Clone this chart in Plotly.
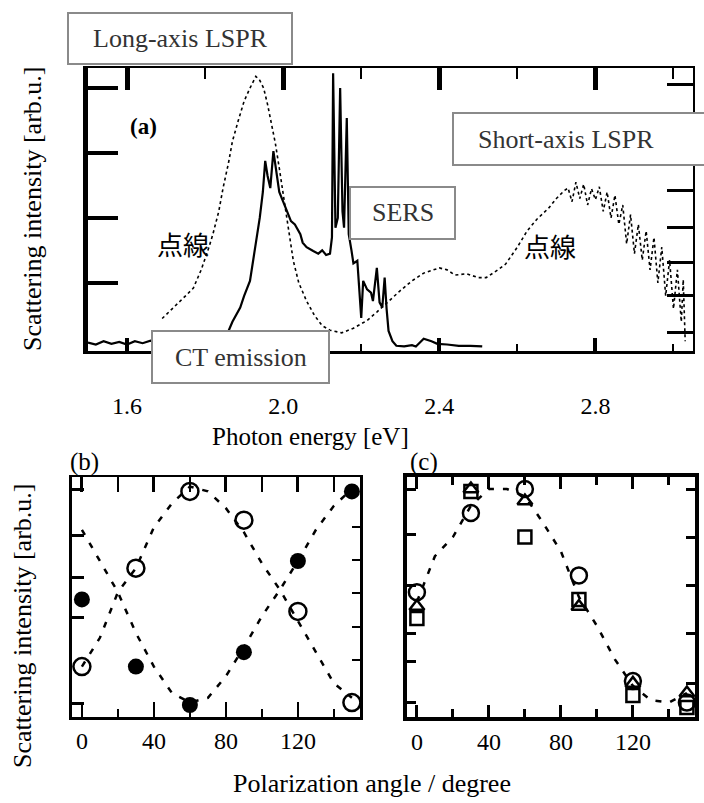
import plotly.graph_objects as go

W, H = 704, 803

# ---------------- data: panel (a) ----------------
dot_energy = [1.69, 1.72, 1.75, 1.77, 1.79, 1.81, 1.82, 1.835, 1.846, 1.86, 1.87, 1.885, 1.90, 1.915, 1.93,
              1.94, 1.95, 1.96, 1.967, 1.98, 1.99, 2.00, 2.01, 2.02, 2.026, 2.04, 2.06, 2.08, 2.10, 2.12,
              2.15, 2.18, 2.215, 2.24, 2.27, 2.30, 2.33, 2.36, 2.40, 2.42, 2.44, 2.47, 2.50, 2.52, 2.55,
              2.57, 2.60, 2.625, 2.65, 2.68, 2.70, 2.72, 2.73, 2.74, 2.75, 2.76, 2.77, 2.78, 2.79, 2.80,
              2.81, 2.82, 2.83, 2.84, 2.85, 2.86, 2.87, 2.88, 2.89, 2.90, 2.91, 2.92, 2.93, 2.94, 2.95,
              2.96, 2.97, 2.98, 2.99, 3.00, 3.01, 3.02, 3.025, 3.03]
dot_intensity = [0.45, 0.62, 0.80, 0.92, 1.20, 1.55, 1.75, 2.10, 2.46, 2.85, 3.18, 3.50, 3.80, 4.00, 4.18,
                 4.12, 4.00, 3.75, 3.54, 3.15, 2.77, 2.38, 2.00, 1.60, 1.34, 1.00, 0.72, 0.50, 0.34, 0.27,
                 0.23, 0.30, 0.42, 0.55, 0.72, 0.88, 1.03, 1.15, 1.23, 1.20, 1.12, 1.14, 1.08, 1.08, 1.20,
                 1.29, 1.55, 1.80, 1.98, 2.15, 2.30, 2.42, 2.46, 2.25, 2.55, 2.30, 2.52, 2.20, 2.45, 2.28,
                 2.48, 2.10, 2.40, 2.00, 2.35, 1.90, 2.20, 1.60, 2.05, 1.45, 1.90, 1.35, 1.80, 1.20, 1.70,
                 1.00, 1.55, 0.80, 1.35, 0.60, 1.20, 0.40, 1.05, 0.10]

solid_energy = [1.50, 1.52, 1.54, 1.56, 1.58, 1.60, 1.62, 1.64, 1.66, 1.68, 1.70, 1.72, 1.74, 1.76, 1.78,
                1.80, 1.82, 1.84, 1.856, 1.87, 1.89, 1.90, 1.915, 1.925, 1.93, 1.94, 1.948, 1.954, 1.96,
                1.967, 1.975, 1.982, 1.99, 2.00, 2.01, 2.02, 2.03, 2.044, 2.05, 2.06, 2.077, 2.09, 2.10,
                2.11, 2.12, 2.125, 2.128, 2.134, 2.14, 2.146, 2.152, 2.156, 2.163, 2.168, 2.175, 2.18,
                2.19, 2.20, 2.205, 2.215, 2.225, 2.23, 2.24, 2.247, 2.254, 2.26, 2.265, 2.27, 2.28, 2.29,
                2.31, 2.33, 2.34, 2.36, 2.38, 2.395, 2.42, 2.45, 2.48, 2.51]
solid_intensity = [0.08, 0.05, 0.10, 0.06, 0.09, 0.05, 0.10, 0.07, 0.11, 0.06, 0.09, 0.07, 0.10, 0.08, 0.12,
                   0.10, 0.13, 0.15, 0.20, 0.40, 0.62, 0.80, 1.03, 1.40, 1.65, 2.00, 2.40, 2.88, 2.65,
                   2.46, 3.03, 2.70, 2.40, 2.25, 2.10, 1.95, 1.90, 1.75, 1.62, 1.55, 1.49, 1.45, 1.50,
                   1.43, 1.45, 1.70, 4.23, 1.85, 2.00, 4.00, 2.10, 1.85, 3.54, 1.75, 1.50, 1.30,
                   1.34, 0.46, 1.03, 0.90, 0.85, 0.72, 1.23, 0.70, 0.62, 1.08, 0.60, 0.26, 0.10, 0.03,
                   0.02, 0.04, 0.02, 0.14, 0.10, 0.06, 0.05, 0.03, 0.03, 0.02]

energy_tickvals = [1.6, 2.0, 2.4, 2.8]
energy_ticktext = ["1.6", "2.0", "2.4", "2.8"]
energy_minor = [1.8, 2.2, 2.6, 3.0]
a_left_ticks = [1, 2, 3, 4]
a_right_ticks = [0.23, 0.80, 1.31, 1.86, 2.43, 4.05]

# ---------------- data: panels (b), (c) ----------------
angles = [0, 30, 60, 90, 120, 150]
b_open = [0.21, 0.62, 0.94, 0.82, 0.44, 0.06]
b_filled = [0.49, 0.21, 0.05, 0.27, 0.65, 0.94]
fit_angles = [0, 10, 20, 30, 40, 50, 60, 70, 80, 90, 100, 110, 120, 130, 140, 150]
b_open_fit = [0.21, 0.33, 0.52, 0.62, 0.79, 0.89, 0.96, 0.94, 0.87, 0.77, 0.64, 0.53, 0.40, 0.27, 0.14, 0.08]
b_filled_fit = [0.78, 0.65, 0.52, 0.35, 0.21, 0.10, 0.06, 0.08, 0.17, 0.29, 0.42, 0.53, 0.65, 0.78, 0.88, 0.95]

c_circle = [0.52, 0.85, 0.95, 0.59, 0.15, 0.06]
c_triangle = [0.46, 0.95, 0.90, 0.46, 0.14, 0.10]
c_square = [0.41, 0.94, 0.75, 0.49, 0.09, 0.04]
c_fit = [0.48, 0.67, 0.75, 0.88, 0.95, 0.95, 0.92, 0.81, 0.69, 0.50, 0.38, 0.24, 0.13, 0.07, 0.06, 0.10]

angle_tickvals = [0, 40, 80, 120]
angle_ticktext = ["0", "40", "80", "120"]
angle_minor = [20, 60, 100, 140]
b_left_ticks = [0.058, 0.413, 0.583, 0.758, 0.946]
b_right_ticks = [0.2375, 0.375, 0.517, 0.654, 0.79]
c_left_ticks = [0.06, 0.23, 0.35, 0.55, 0.76, 0.95]
c_right_ticks = [0.14, 0.35, 0.55, 0.75, 0.95]


def px(x):
    return x / W


def py(y):
    return 1 - y / H


SERIF = "Liberation Serif"
CJK = "Noto Sans CJK JP"

fig = go.Figure()

# panel (a)
fig.add_trace(go.Scatter(x=dot_energy, y=dot_intensity, mode="lines",
                         line=dict(color="black", width=1.6, dash="dot"), xaxis="x", yaxis="y"))
fig.add_trace(go.Scatter(x=solid_energy, y=solid_intensity, mode="lines",
                         line=dict(color="black", width=2.2), xaxis="x", yaxis="y"))

# panel (b)
fig.add_trace(go.Scatter(x=fit_angles, y=b_open_fit, mode="lines",
                         line=dict(color="black", width=2.5, dash="6px,9px"), xaxis="x3", yaxis="y3"))
fig.add_trace(go.Scatter(x=fit_angles, y=b_filled_fit, mode="lines",
                         line=dict(color="black", width=2.5, dash="6px,9px"), xaxis="x3", yaxis="y3"))
fig.add_trace(go.Scatter(x=angles, y=b_open, mode="markers",
                         marker=dict(symbol="circle-open", size=17, color="black", line=dict(width=2.5)),
                         xaxis="x3", yaxis="y3"))
fig.add_trace(go.Scatter(x=angles, y=b_filled, mode="markers",
                         marker=dict(symbol="circle", size=16, color="black"),
                         xaxis="x3", yaxis="y3"))

# panel (c)
fig.add_trace(go.Scatter(x=fit_angles, y=c_fit, mode="lines",
                         line=dict(color="black", width=2.5, dash="6px,9px"), xaxis="x4", yaxis="y4"))
fig.add_trace(go.Scatter(x=angles, y=c_circle, mode="markers",
                         marker=dict(symbol="circle-open", size=16, color="black", line=dict(width=2.5)),
                         xaxis="x4", yaxis="y4"))
fig.add_trace(go.Scatter(x=angles, y=c_triangle, mode="markers",
                         marker=dict(symbol="triangle-up-open", size=13, color="black", line=dict(width=2.5)),
                         xaxis="x4", yaxis="y4"))
fig.add_trace(go.Scatter(x=angles, y=c_square, mode="markers",
                         marker=dict(symbol="square-open", size=13, color="black", line=dict(width=2.5)),
                         xaxis="x4", yaxis="y4"))

# empty helper traces so that the overlaid frame axes (top / right) get drawn
for xa, ya in [("x2", "y"), ("x", "y2"), ("x5", "y3"), ("x3", "y5"), ("x6", "y4"), ("x4", "y6")]:
    fig.add_trace(go.Scatter(x=[], y=[], mode="lines", xaxis=xa, yaxis=ya, hoverinfo="skip"))

tickfont = dict(family=SERIF, size=24, color="black")

a_dom_x = [px(88), px(693)]
a_dom_y = [py(351), py(68)]
b_dom_x = [px(72), px(360)]
c_dom_x = [px(407), px(695)]
bc_dom_y = [py(717), py(477)]

a_xrange = [1.5, 3.05]
a_yrange = [-0.05, 4.31]
ang_range = [-5.5, 154.5]
int_range = [0, 1]

layout = dict(
    width=W, height=H, margin=dict(l=0, r=0, t=0, b=0),
    paper_bgcolor="white", plot_bgcolor="white", showlegend=False,
    font=dict(family=SERIF, size=24, color="black"),
    # ---- panel a ----
    xaxis=dict(domain=a_dom_x, anchor="y", range=a_xrange, showgrid=False, zeroline=False,
               showline=True, linewidth=3, linecolor="black",
               tickmode="array", tickvals=energy_tickvals, ticktext=energy_ticktext,
               ticks="inside", ticklen=13, tickwidth=4, tickcolor="black", tickfont=tickfont,
               ticklabelstandoff=31,
               minor=dict(tickmode="array", tickvals=energy_minor, ticks="inside", ticklen=7,
                          tickwidth=2, tickcolor="black")),
    xaxis2=dict(overlaying="x", side="top", anchor="y", range=a_xrange, showgrid=False, zeroline=False,
                showline=True, linewidth=2, linecolor="black",
                tickmode="array", tickvals=energy_tickvals, showticklabels=False,
                ticks="inside", ticklen=22, tickwidth=5, tickcolor="black",
                minor=dict(tickmode="array", tickvals=energy_minor, ticks="inside", ticklen=11,
                           tickwidth=2, tickcolor="black")),
    yaxis=dict(domain=a_dom_y, anchor="x", range=a_yrange, showgrid=False, zeroline=False,
               showline=True, linewidth=5, linecolor="black",
               tickmode="array", tickvals=a_left_ticks, showticklabels=False,
               ticks="inside", ticklen=30, tickwidth=4, tickcolor="black"),
    yaxis2=dict(overlaying="y", side="right", anchor="x", range=a_yrange, showgrid=False, zeroline=False,
                showline=True, linewidth=2, linecolor="black",
                tickmode="array", tickvals=a_right_ticks, showticklabels=False,
                ticks="inside", ticklen=26, tickwidth=3, tickcolor="black"),
    # ---- panel b ----
    xaxis3=dict(domain=b_dom_x, anchor="y3", range=ang_range, showgrid=False, zeroline=False,
                showline=True, linewidth=3, linecolor="black",
                tickmode="array", tickvals=angle_tickvals, ticktext=angle_ticktext,
                ticks="inside", ticklen=15, tickwidth=2, tickcolor="black", tickfont=tickfont,
                minor=dict(tickmode="array", tickvals=angle_minor, ticks="inside", ticklen=8,
                           tickwidth=2, tickcolor="black")),
    xaxis5=dict(overlaying="x3", side="top", anchor="y3", range=ang_range, showgrid=False, zeroline=False,
                showline=True, linewidth=1.5, linecolor="black",
                tickmode="array", tickvals=angle_tickvals, showticklabels=False,
                ticks="inside", ticklen=15, tickwidth=3, tickcolor="black",
                minor=dict(tickmode="array", tickvals=angle_minor, ticks="inside", ticklen=15,
                           tickwidth=2, tickcolor="black")),
    yaxis3=dict(domain=bc_dom_y, anchor="x3", range=int_range, showgrid=False, zeroline=False,
                showline=True, linewidth=3, linecolor="black",
                tickmode="array", tickvals=b_left_ticks, showticklabels=False,
                ticks="inside", ticklen=12, tickwidth=3, tickcolor="black"),
    yaxis5=dict(overlaying="y3", side="right", anchor="x3", range=int_range, showgrid=False, zeroline=False,
                showline=True, linewidth=3, linecolor="black",
                tickmode="array", tickvals=b_right_ticks, showticklabels=False,
                ticks="inside", ticklen=8, tickwidth=2, tickcolor="black"),
    # ---- panel c ----
    xaxis4=dict(domain=c_dom_x, anchor="y4", range=ang_range, showgrid=False, zeroline=False,
                showline=True, linewidth=4, linecolor="black",
                tickmode="array", tickvals=angle_tickvals, ticktext=angle_ticktext,
                ticks="inside", ticklen=12, tickwidth=3, tickcolor="black", tickfont=tickfont,
                minor=dict(tickmode="array", tickvals=angle_minor, ticks="inside", ticklen=8,
                           tickwidth=3, tickcolor="black")),
    xaxis6=dict(overlaying="x4", side="top", anchor="y4", range=ang_range, showgrid=False, zeroline=False,
                showline=True, linewidth=4, linecolor="black",
                tickmode="array", tickvals=angle_tickvals, showticklabels=False,
                ticks="inside", ticklen=12, tickwidth=3, tickcolor="black",
                minor=dict(tickmode="array", tickvals=angle_minor, ticks="inside", ticklen=8,
                           tickwidth=3, tickcolor="black")),
    yaxis4=dict(domain=bc_dom_y, anchor="x4", range=int_range, showgrid=False, zeroline=False,
                showline=True, linewidth=4, linecolor="black",
                tickmode="array", tickvals=c_left_ticks, showticklabels=False,
                ticks="inside", ticklen=9, tickwidth=3, tickcolor="black"),
    yaxis6=dict(overlaying="y4", side="right", anchor="x4", range=int_range, showgrid=False, zeroline=False,
                showline=True, linewidth=4, linecolor="black",
                tickmode="array", tickvals=c_right_ticks, showticklabels=False,
                ticks="inside", ticklen=9, tickwidth=3, tickcolor="black"),
)
fig.update_layout(**layout)

# label boxes (paper coords)
boxes = [
    ("Long-axis LSPR", 68, 13, 292, 64, "center"),
    ("SERS", 350, 187, 455, 239, "center"),
    ("Short-axis LSPR", 453, 113, 740, 165, "left"),
    ("CT emission", 152, 331, 329, 383, "center"),
]
for text, x0, y0, x1, y1, al in boxes:
    fig.add_shape(type="rect", xref="paper", yref="paper", x0=px(x0), x1=px(x1), y0=py(y1), y1=py(y0),
                  line=dict(color="#8a8a8a", width=2), fillcolor="white", layer="above")
    if al == "center":
        fig.add_annotation(text=text, xref="paper", yref="paper", x=px((x0 + x1) / 2), y=py((y0 + y1) / 2),
                           xanchor="center", yanchor="middle", showarrow=False,
                           font=dict(family=SERIF, size=26, color="#333333"))
    else:
        fig.add_annotation(text=text, xref="paper", yref="paper", x=px(x0 + 23), y=py((y0 + y1) / 2),
                           xanchor="left", yanchor="middle", showarrow=False,
                           font=dict(family=SERIF, size=26, color="#333333"))

texts = [
    ("<b>(a)</b>", 143, 127, 23, SERIF, 0),
    ("点線", 183, 243, 26, CJK, 0),
    ("点線", 550, 245, 26, CJK, 0),
    ("(b)", 84, 462, 25, SERIF, 0),
    ("(c)", 424, 462, 25, SERIF, 0),
    ("Photon energy [eV]", 310, 437, 25, SERIF, 0),
    ("Polarization angle / degree", 372, 783, 26, SERIF, 0),
    ("Scattering intensity [arb.u.]", 33, 209, 26, SERIF, -90),
    ("Scattering intensity [arb.u.]", 22, 626, 26, SERIF, -90),
]
for t, x, y, s, fam, ang in texts:
    fig.add_annotation(text=t, xref="paper", yref="paper", x=px(x), y=py(y), xanchor="center",
                       yanchor="middle", showarrow=False, textangle=ang,
                       font=dict(family=fam, size=s, color="black"))

fig.write_html("out.html", config={"displayModeBar": False},
               post_script="document.body.style.margin='0';")
